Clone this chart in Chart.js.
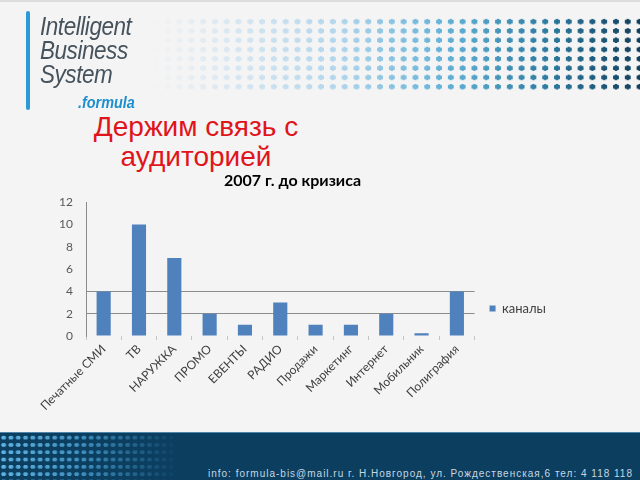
<!DOCTYPE html>
<html>
<head>
<meta charset="utf-8">
<script src="https://cdn.jsdelivr.net/npm/chart.js@4/dist/chart.umd.min.js"></script>
<style>
  body { margin: 0; width: 640px; height: 480px; overflow: hidden; background: #f4f4f4; position: relative; font-family: 'Liberation Sans', Arial, sans-serif; }
  .topline { position: absolute; left: 0; top: 0; width: 640px; height: 2px; background: #dcdcdc; }
  .dots { position: absolute; left: 150px; top: 17px; width: 490px; height: 76px;
    background: linear-gradient(to right, #f4f4f4 0%, #dde9f2 14%, #b3d6ec 38%, #64b2d8 60%, #2f7fa5 80%, #123f5c 100%);
    -webkit-mask-image: radial-gradient(ellipse 3.3px 2.7px at 50% 50%, #000 90%, transparent 100%);
    -webkit-mask-size: 11.8px 9.3px; }
  .bar { position: absolute; left: 26px; top: 11px; width: 4px; height: 99px; background: #2b9ad6; border-radius: 2px; }
  .logo { position: absolute; left: 40px; top: 14px; font: italic 25px/24px 'Liberation Sans', sans-serif; color: #46525c; letter-spacing: -0.5px; transform: scaleX(0.9); transform-origin: 0 0; }
  .formula { position: absolute; left: 78px; top: 94px; font: italic bold 16px 'Liberation Sans', sans-serif; color: #1d8fcf; transform: scaleX(0.9); transform-origin: 0 0; }
  .headline { position: absolute; left: 46px; top: 112px; width: 300px; text-align: center; font: 28px/30px 'Liberation Sans', Arial, sans-serif; color: #e0151b; }
  .footer { position: absolute; left: 0; top: 432px; width: 640px; height: 48px; background: #0b3e5f; border-top: 1px solid #4d86aa; }
  .fdots { position: absolute; left: 0; top: 434px; width: 180px; height: 46px;
    background: linear-gradient(to right, #5fb2e2 0%, #3f8fbf 45%, rgba(11,62,95,0) 100%);
    -webkit-mask-image: radial-gradient(ellipse 2.5px 2.2px at 50% 50%, #000 90%, transparent 100%);
    -webkit-mask-size: 7.3px 7.3px; }
  .contacts { position: absolute; right: 7px; top: 468px; font: 10px 'Liberation Sans', sans-serif; letter-spacing: 1px; color: #c6d6e2; white-space: nowrap; }
  #wrap { position: absolute; left: 0; top: 168px; width: 640px; height: 264px; }
</style>
</head>
<body>
<div class="topline"></div>
<div class="dots"></div>
<div class="bar"></div>
<div class="logo">Intelligent<br>Business<br>System</div>
<div class="formula">.formula</div>
<div class="headline">Держим связь с<br>аудиторией</div>
<div class="footer"></div>
<div class="fdots"></div>
<div class="contacts">info: formula-bis@mail.ru г. Н.Новгород, ул. Рождественская,6 тел: 4 118 118</div>
<div id="wrap"><canvas id="chart" width="640" height="264"></canvas></div>
<script>
const categories = ['Печатные СМИ', 'ТВ', 'НАРУЖКА', 'ПРОМО', 'ЕВЕНТЫ', 'РАДИО',
  'Продажи', 'Маркетинг', 'Интернет', 'Мобильник', 'Полиграфия'];
const channels = [4, 10, 7, 2, 1, 3, 1, 1, 2, 0.25, 4];
const seriesName = 'каналы';
const gridValues = [2, 4];

const labelFont = { family: 'Lato, "Open Sans", sans-serif', size: 12 };

// legend box spans the whole height; pin it to the plot, a bit above its bottom
const legendNudge = {
  id: 'legendNudge',
  afterLayout(chart) {
    chart.legend.top = chart.chartArea.top;
    chart.legend.bottom = chart.chartArea.bottom - 6;
  }
};

new Chart(document.getElementById('chart'), {
  type: 'bar',
  data: {
    labels: categories,
    datasets: [{
      label: seriesName,
      data: channels,
      backgroundColor: '#4f81bd',
      barPercentage: 0.4,
      categoryPercentage: 1
    }]
  },
  options: {
    responsive: false,
    animation: false,
    layout: { padding: { left: 29, right: 84, top: 2, bottom: 0 } },
    plugins: {
      title: {
        display: true,
        text: '2007 г. до кризиса',
        color: '#000',
        font: { family: 'Lato, sans-serif', size: 16, weight: 'bold' },
        padding: { top: 1, bottom: 12 }
      },
      legend: {
        position: 'right',
        align: 'end',
        labels: { boxWidth: 6, boxHeight: 6, padding: 15, color: '#404040', font: { family: 'Lato, sans-serif', size: 13 } }
      },
      tooltip: { enabled: false }
    },
    scales: {
      x: {
        offset: true,
        border: { display: false },
        grid: { offset: true, drawOnChartArea: false, tickLength: 4, color: '#c4c4c4' },
        ticks: { autoSkip: false, minRotation: 45, maxRotation: 45, padding: 2, color: '#404040', font: labelFont },
        afterFit: s => { s.height = 96; }
      },
      y: {
        min: 0,
        max: 12,
        border: { color: '#8c8c8c' },
        grid: {
          drawTicks: false,
          color: ctx => gridValues.includes(ctx.tick.value) ? '#8c8c8c' : 'rgba(0,0,0,0)'
        },
        ticks: { stepSize: 2, padding: 13, color: '#595959', font: labelFont },
        afterFit: s => { s.width = 57; }
      }
    }
  },
  plugins: [legendNudge]
});
</script>
</body>
</html>
